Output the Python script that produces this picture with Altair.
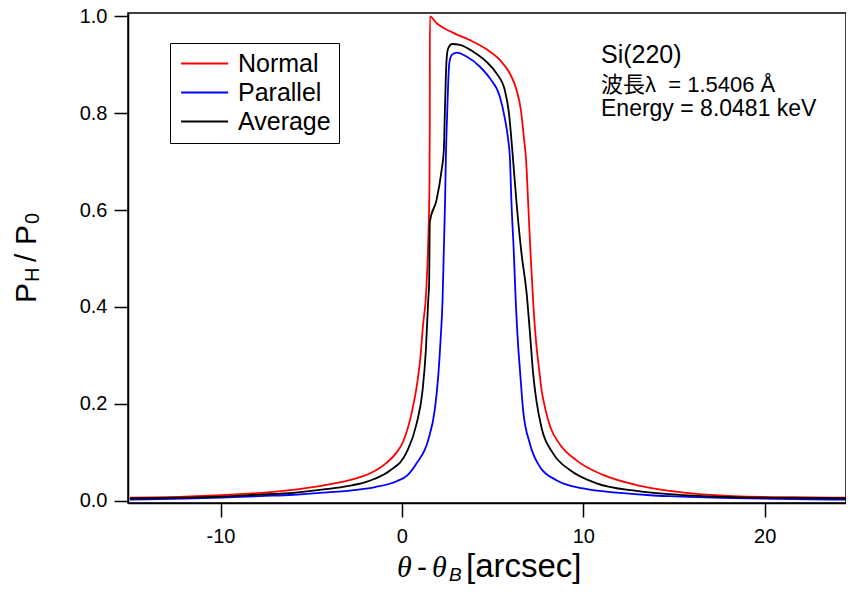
import altair as alt
import pandas as pd

# ---------------- data ----------------
normal_x = [-15, -12, -10, -7.8, -6, -4.1, -3, -2.1, -1.5, -0.85, -0.3, 0.07, 0.53, 0.84,
            1.03, 1.17, 1.30, 1.40, 1.47, 1.52, 1.535, 1.54, 1.91, 2.83, 3.75, 4.67, 5.40,
            5.95, 6.32, 6.56, 6.72, 6.85, 6.96, 7.09, 7.24, 7.42, 7.55, 7.70, 7.90, 8.20,
            8.71, 9.62, 11.09, 12.93, 14.77, 18.25, 21.5, 24.8]
normal_y = [0.006, 0.008, 0.011, 0.016, 0.022, 0.033, 0.041, 0.051, 0.061, 0.078, 0.099,
            0.122, 0.180, 0.242, 0.300, 0.365, 0.410, 0.480, 0.560, 0.660, 0.780, 1.000,
            0.986, 0.966, 0.951, 0.932, 0.910, 0.882, 0.848, 0.806, 0.751, 0.700, 0.614,
            0.511, 0.407, 0.318, 0.275, 0.228, 0.190, 0.150, 0.116, 0.083, 0.053, 0.032,
            0.020, 0.0093, 0.007, 0.006]

parallel_x = [-15, -12, -10, -7.8, -6, -4.1, -3, -2.1, -1.47, -0.29, 0.3, 0.81, 1.45, 1.82,
              2.0, 2.13, 2.24, 2.31, 2.38, 2.42, 2.50, 2.61, 2.74, 3.01, 3.56, 4.30, 4.85,
              5.40, 5.67, 5.86, 5.95, 6.04, 6.17, 6.28, 6.41, 6.50, 6.68, 7.05, 7.60, 8.52,
              9.99, 12.01, 13.7, 14.77, 18.25, 21.5, 24.8]
parallel_y = [0.002, 0.004, 0.006, 0.0093, 0.012, 0.017, 0.020, 0.024, 0.028, 0.040, 0.052,
              0.077, 0.125, 0.190, 0.256, 0.331, 0.414, 0.517, 0.620, 0.703, 0.806, 0.903,
              0.920, 0.925, 0.917, 0.896, 0.872, 0.834, 0.790, 0.745, 0.710, 0.614, 0.511,
              0.407, 0.318, 0.273, 0.187, 0.118, 0.070, 0.042, 0.025, 0.016, 0.011, 0.009,
              0.005, 0.003, 0.002]

average_x = [-15, -12, -10, -7.8, -6, -4.1, -3, -2.1, -1.5, -0.66, 0.26, 0.81, 1.14, 1.32,
             1.45, 1.50, 1.54, 1.91, 2.19, 2.31, 2.37, 2.46, 2.55, 2.77, 3.20, 3.93, 4.67,
             5.22, 5.67, 5.90, 6.10, 6.32, 6.59, 6.87, 7.05, 7.24, 7.42, 7.70, 8.34, 9.26,
             10.73, 12.93, 14.77, 18.25, 21.5, 24.8]
average_y = [0.0045, 0.006, 0.008, 0.0125, 0.016, 0.024, 0.030, 0.037, 0.045, 0.062, 0.100,
             0.159, 0.228, 0.311, 0.414, 0.449, 0.576, 0.621, 0.683, 0.724, 0.806, 0.910,
             0.934, 0.943, 0.941, 0.927, 0.906, 0.882, 0.848, 0.800, 0.717, 0.614, 0.511,
             0.430, 0.350, 0.260, 0.205, 0.150, 0.097, 0.063, 0.0355, 0.020, 0.0134,
             0.0072, 0.0055, 0.0045]

series_names = ["Normal", "Parallel", "Average"]
series_colors = ["#ff0000", "#0000ff", "#000000"]

x_ticks = [-10, 0, 10, 20]
y_ticks = [0.0, 0.2, 0.4, 0.6, 0.8, 1.0]

info_lines = ["Si(220)", "波長λ\u00a0\u00a0= 1.5406 Å", "Energy = 8.0481 keV"]

# ---------------- table ----------------
rows = []
for name, xs, ys in zip(series_names,
                        [normal_x, parallel_x, average_x],
                        [normal_y, parallel_y, average_y]):
    for xv, yv in zip(xs, ys):
        rows.append({"series": name, "x": xv, "y": yv})
df = pd.DataFrame(rows)

SANS = "Liberation Sans"
SERIF = "Liberation Serif"

lines = alt.Chart(df).mark_line(strokeWidth=1.8, interpolate="monotone", clip=True).encode(
    x=alt.X("x:Q", scale=alt.Scale(domain=[-15.1, 24.48], nice=False, zero=False),
            axis=alt.Axis(values=x_ticks, title=None, labelPadding=9,
                          labelExpr="datum.value < 0 ? '-' + abs(datum.value) : '' + datum.value")),
    y=alt.Y("y:Q", scale=alt.Scale(domain=[-0.005, 1.007], nice=False, zero=False),
            axis=alt.Axis(values=y_ticks, title=None, format=".1f", labelPadding=7)),
    color=alt.Color("series:N",
                    scale=alt.Scale(domain=series_names, range=series_colors),
                    sort=series_names,
                    legend=alt.Legend(orient="none", legendX=42, legendY=30, title=None,
                                      symbolType="M-1,0H4", symbolSize=354,
                                      symbolStrokeWidth=1.8, labelFontSize=25,
                                      labelFont=SANS, labelColor="black", labelLimit=0,
                                      strokeColor="black", fillColor="white",
                                      padding=8, labelOffset=35, rowPadding=3)),
    detail="series:N",
)

def txt(text, x, y, size, font=SANS, style="normal", align="left", angle=0):
    kw = dict(align=align, baseline="alphabetic", fontSize=size, font=font,
              fontStyle=style, color="black")
    if angle:
        kw["angle"] = angle
    return alt.Chart(pd.DataFrame({"t": [text]})).mark_text(**kw).encode(
        x=alt.value(x), y=alt.value(y), text="t:N")

info_font = "'Liberation Sans', 'Noto Sans CJK JP'"
info = [
    txt(info_lines[0], 473, 50, 25, font=info_font),
    txt(info_lines[1], 473, 79, 22, font=info_font),
    txt(info_lines[2], 473, 103, 23, font=info_font),
]

# x axis title: θ - θB [arcsec]
xt = [
    txt("θ", 269, 564, 30, font=SERIF, style="italic"),
    txt("-", 289, 564, 30),
    txt("θ", 304, 564, 30, font=SERIF, style="italic"),
    txt("B", 321, 568, 19, style="italic"),
    txt("[arcsec]", 338, 564, 33),
]
# y axis title: PH / P0 (rotated, reading upwards)
yt = [
    txt("P", -92, 290, 30, angle=270),
    txt("H", -89, 269, 20, angle=270),
    txt("/", -92, 249, 30, angle=270),
    txt("P", -92, 232, 30, angle=270),
    txt("0", -89, 211, 20, angle=270),
]

chart = alt.layer(lines, *info, *xt, *yt).properties(
    width=718, height=490,
    autosize=alt.AutoSizeParams(type="none"),
    padding={"left": 120, "top": 5, "right": 0, "bottom": 81},
).configure_view(stroke="black", strokeWidth=1.5).configure_axis(
    grid=False, domainColor="black", domainWidth=1.5, tickColor="black", tickWidth=1.5,
    tickSize=14, labelFontSize=20, labelFont=SANS, labelColor="black",
)

chart.save("out.html", embed_options={"renderer": "svg", "actions": False})
